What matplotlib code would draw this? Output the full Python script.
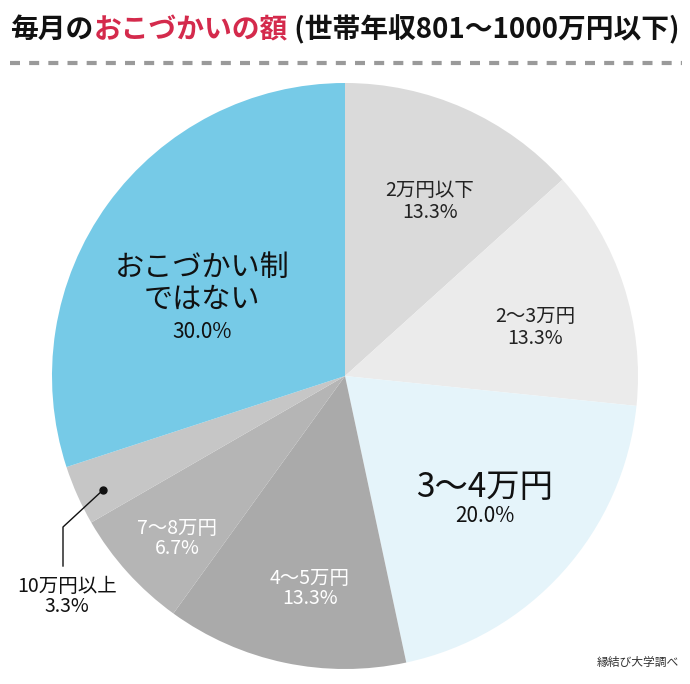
import matplotlib.pyplot as plt
from matplotlib.lines import Line2D

plt.rcParams['font.family'] = ['Noto Sans CJK JP', 'DejaVu Sans']

# data
labels = ['2万円以下', '2〜3万円', '3〜4万円', '4〜5万円', '7〜8万円', '10万円以上', 'おこづかい制\nではない']
values = [13.3, 13.3, 20.0, 13.3, 6.7, 3.3, 30.0]
colors = ['#dadada', '#ebebeb', '#e5f4fa', '#aaaaaa', '#b5b5b5', '#c6c6c6', '#76cae7']
title_parts = ['毎月の', 'おこづかいの額', ' (世帯年収801〜1000万円以下)']
title_colors = ['#111111', '#d42a4c', '#111111']
source = '縁結び大学調べ'

W, H = 690, 684
fig = plt.figure(figsize=(W / 100, H / 100), dpi=100)
ax = fig.add_axes([0, 0, 1, 1])

cx, cy, r = 345, H - 376, 293
ax.pie(values, colors=colors, startangle=90, counterclock=False,
       center=(cx, cy), radius=r, wedgeprops=dict(linewidth=0))
ax.set_xlim(0, W)
ax.set_ylim(0, H)
ax.set_aspect('equal')
ax.axis('off')

def Y(y):
    return H - y

# title in colored pieces
renderer = fig.canvas.get_renderer()
x = 10
for part, c in zip(title_parts, title_colors):
    t = ax.text(x, Y(30), part, fontsize=20, fontweight='bold', color=c,
                va='center', ha='left')
    bb = t.get_window_extent(renderer)
    x += bb.width

ax.add_line(Line2D([10, 682], [Y(63), Y(63)], color='#9a9a9a', lw=3,
                   linestyle=(0, (2.4, 2.2))))

# slice labels
def lab(x, y1, y2, name, pct, size, psize, color):
    ax.text(x, Y(y1), name, fontsize=size, color=color, ha='center', va='center', linespacing=1.05)
    ax.text(x, Y(y2), pct, fontsize=psize, color=color, ha='center', va='center')

lab(430, 191, 213, labels[0], f'{values[0]:.1f}%', 14, 14, '#222222')
lab(535, 317, 338, labels[1], f'{values[1]:.1f}%', 14, 14, '#222222')
lab(485, 487, 516, labels[2], f'{values[2]:.1f}%', 24, 15, '#111111')
lab(310, 578, 598, labels[3], f'{values[3]:.1f}%', 14, 14, '#ffffff')
lab(177, 528, 548, labels[4], f'{values[4]:.1f}%', 14, 14, '#ffffff')
lab(202, 284, 332, labels[6], f'{values[6]:.1f}%', 21, 15, '#111111')
lab(67, 586, 606, labels[5], f'{values[5]:.1f}%', 14, 14, '#111111')

# leader for the small slice
ax.plot([103, 63, 63], [Y(490), Y(527), Y(566)], color='#111111', lw=1)
ax.plot([103], [Y(490)], 'o', color='#111111', ms=5)

ax.text(679, Y(662), source, fontsize=8.5, color='#333333', ha='right', va='center')

fig.savefig('out.png', dpi=100)
